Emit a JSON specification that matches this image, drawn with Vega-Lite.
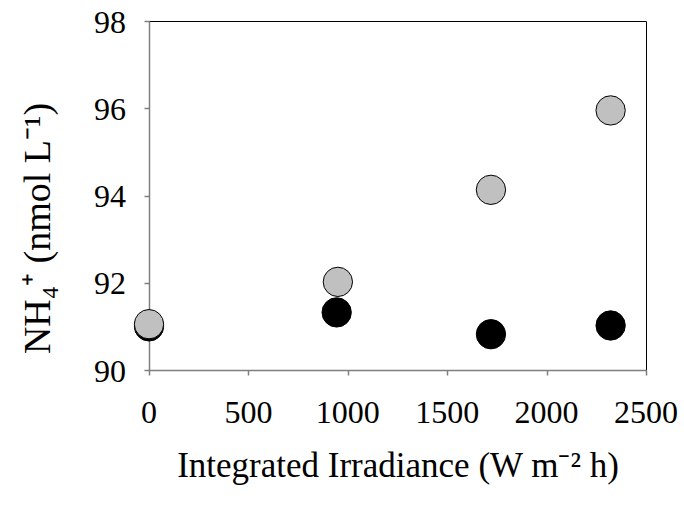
{
  "$schema": "https://vega.github.io/schema/vega-lite/v6.json",
  "width": 497,
  "height": 349,
  "autosize": {"type": "none"},
  "padding": {"left": 149, "top": 21, "right": 38, "bottom": 136},
  "background": "white",
  "config": {
    "view": {"stroke": "#000000", "strokeWidth": 1},
    "font": "Liberation Serif"
  },
  "layer": [
    {
      "data": {
        "values": [
          {"irradiance": 0, "nh4": 91.0, "series": "dark"},
          {"irradiance": 944, "nh4": 91.32, "series": "dark"},
          {"irradiance": 1720, "nh4": 90.82, "series": "dark"},
          {"irradiance": 2322, "nh4": 91.02, "series": "dark"},
          {"irradiance": 0, "nh4": 91.05, "series": "light"},
          {"irradiance": 950, "nh4": 92.02, "series": "light"},
          {"irradiance": 1720, "nh4": 94.13, "series": "light"},
          {"irradiance": 2322, "nh4": 95.95, "series": "light"}
        ]
      },
      "mark": {"type": "point", "filled": true, "shape": "circle", "size": 860, "opacity": 1, "stroke": "#000000", "strokeWidth": 1},
      "encoding": {
        "x": {
          "field": "irradiance",
          "type": "quantitative",
          "scale": {"domain": [0, 2500], "nice": false, "zero": false},
          "axis": {
            "values": [0, 500, 1000, 1500, 2000, 2500],
            "labels": false,
            "domainColor": "#7f7f7f",
            "domainWidth": 1.5,
            "tickColor": "#7f7f7f",
            "tickWidth": 1.5,
            "tickSize": 5,
            "grid": false,
            "title": "Integrated Irradiance (W m⁻² h)",
            "titleFont": "Liberation Serif",
            "titleFontSize": 35,
            "titleFontWeight": "normal",
            "titleColor": "#000000",
            "titlePadding": 73
          }
        },
        "y": {
          "field": "nh4",
          "type": "quantitative",
          "scale": {"domain": [90, 98], "nice": false, "zero": false},
          "axis": {
            "values": [90, 92, 94, 96, 98],
            "labels": false,
            "domainColor": "#7f7f7f",
            "domainWidth": 1.5,
            "tickColor": "#7f7f7f",
            "tickWidth": 1.5,
            "tickSize": 5,
            "grid": false,
            "title": "NH₄⁺ (nmol L⁻¹)",
            "titleFont": "Liberation Serif",
            "titleFontSize": 38,
            "titleFontWeight": "normal",
            "titleColor": "#000000",
            "titlePadding": 86,
            "titleY": 207
          }
        },
        "fill": {
          "field": "series",
          "type": "nominal",
          "scale": {"domain": ["dark", "light"], "range": ["#000000", "#c0c0c0"]},
          "legend": null
        },
        "order": {"field": "series", "sort": "ascending"}
      }
    },
    {
      "data": {"values": [{"tick": 0}, {"tick": 500}, {"tick": 1000}, {"tick": 1500}, {"tick": 2000}, {"tick": 2500}]},
      "mark": {"type": "text", "font": "Liberation Serif", "fontSize": 32, "color": "#000000", "align": "center", "baseline": "alphabetic", "dy": 53},
      "encoding": {
        "x": {
          "field": "tick",
          "type": "quantitative",
          "scale": {"domain": [0, 2500], "nice": false, "zero": false},
          "axis": {
            "values": [0, 500, 1000, 1500, 2000, 2500],
            "labels": false,
            "domainColor": "#7f7f7f",
            "domainWidth": 1.5,
            "tickColor": "#7f7f7f",
            "tickWidth": 1.5,
            "tickSize": 5,
            "grid": false,
            "title": "Integrated Irradiance (W m⁻² h)",
            "titleFont": "Liberation Serif",
            "titleFontSize": 35,
            "titleFontWeight": "normal",
            "titleColor": "#000000",
            "titlePadding": 73
          }
        },
        "y": {
          "datum": 90,
          "type": "quantitative",
          "axis": {
            "values": [90, 92, 94, 96, 98],
            "labels": false,
            "domainColor": "#7f7f7f",
            "domainWidth": 1.5,
            "tickColor": "#7f7f7f",
            "tickWidth": 1.5,
            "tickSize": 5,
            "grid": false,
            "title": "NH₄⁺ (nmol L⁻¹)",
            "titleFont": "Liberation Serif",
            "titleFontSize": 38,
            "titleFontWeight": "normal",
            "titleColor": "#000000",
            "titlePadding": 86,
            "titleY": 207
          }
        },
        "text": {"field": "tick", "type": "quantitative", "format": "d"}
      }
    },
    {
      "data": {"values": [{"tick": 90}, {"tick": 92}, {"tick": 94}, {"tick": 96}, {"tick": 98}]},
      "mark": {"type": "text", "font": "Liberation Serif", "fontSize": 32, "color": "#000000", "align": "right", "baseline": "alphabetic", "dx": -23, "dy": 11.5},
      "encoding": {
        "x": {
          "datum": 0,
          "type": "quantitative",
          "axis": {
            "values": [0, 500, 1000, 1500, 2000, 2500],
            "labels": false,
            "domainColor": "#7f7f7f",
            "domainWidth": 1.5,
            "tickColor": "#7f7f7f",
            "tickWidth": 1.5,
            "tickSize": 5,
            "grid": false,
            "title": "Integrated Irradiance (W m⁻² h)",
            "titleFont": "Liberation Serif",
            "titleFontSize": 35,
            "titleFontWeight": "normal",
            "titleColor": "#000000",
            "titlePadding": 73
          }
        },
        "y": {
          "field": "tick",
          "type": "quantitative",
          "scale": {"domain": [90, 98], "nice": false, "zero": false},
          "axis": {
            "values": [90, 92, 94, 96, 98],
            "labels": false,
            "domainColor": "#7f7f7f",
            "domainWidth": 1.5,
            "tickColor": "#7f7f7f",
            "tickWidth": 1.5,
            "tickSize": 5,
            "grid": false,
            "title": "NH₄⁺ (nmol L⁻¹)",
            "titleFont": "Liberation Serif",
            "titleFontSize": 38,
            "titleFontWeight": "normal",
            "titleColor": "#000000",
            "titlePadding": 86,
            "titleY": 207
          }
        },
        "text": {"field": "tick", "type": "quantitative", "format": "d"}
      }
    }
  ]
}
